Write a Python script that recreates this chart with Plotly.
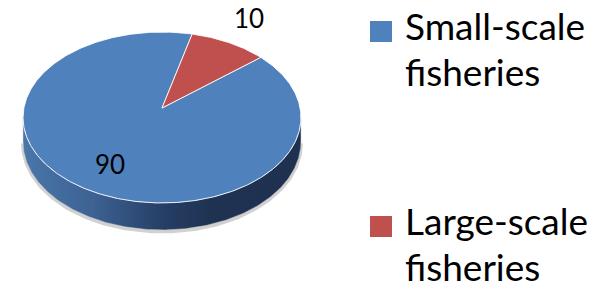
import numpy as np
import plotly.graph_objects as go

# ---- data ----
categories = ["Small-scale fisheries", "Large-scale fisheries"]
values = [90, 10]
slice_colors = ["#4f81bd", "#c0504d"]
label_font = "Lato"

# ---- page / projection parameters (pixel space) ----
W, H = 603, 297
cx, cy = 162.0, 108.0          # projected pie centre
A, B = 138.1, 84.4             # horizontal / vertical radii
k = 0.111                      # perspective factor
D = 24.0                       # thickness of the pie
first_angle = 50.0             # clockwise from 12 o'clock


def proj(theta_deg, r=1.0, depth=0.0):
    t = np.radians(theta_deg)
    u = r * np.sin(t)
    v = r * np.cos(t)
    w = 1 + k * v
    return cx + A * u / w, cy - B * v / w + D * depth / w


fig = go.Figure()

# side wall (front half, visible portion)
t_sil = np.degrees(np.arccos(-k))
side_t = np.linspace(t_sil, 360 - t_sil, 200)
tx, ty = proj(side_t)
bx, by = proj(side_t, depth=1)

# soft shadow below the side
fig.add_trace(go.Scatter(x=bx, y=by + 1.5, mode="lines",
                         line=dict(color="rgba(0,0,0,0.18)", width=4),
                         hoverinfo="skip", showlegend=False))

fig.add_trace(go.Scatter(
    x=np.concatenate([tx, bx[::-1], tx[:1]]),
    y=np.concatenate([ty, by[::-1], ty[:1]]),
    mode="lines", fill="toself",
    line=dict(color="rgba(200,200,200,0.6)", width=0.8),
    fillgradient=dict(type="horizontal",
                      colorscale=[[0.0, "#4a76aa"], [0.25, "#3d6293"],
                                  [0.5, "#263f66"], [0.68, "#1f3251"],
                                  [1.0, "#1f3150"]]),
    hoverinfo="skip", showlegend=False))

# top slices
total = float(sum(values))
start = first_angle
mids = []
for name, val, col in zip(categories, values, slice_colors):
    span = 360.0 * val / total
    ts = np.linspace(start, start + span, max(int(span * 2), 10))
    ax_, ay_ = proj(ts)
    px = np.concatenate([[cx], ax_, [cx]])
    py = np.concatenate([[cy], ay_, [cy]])
    fig.add_trace(go.Scatter(x=px, y=py, mode="lines", fill="toself",
                             fillcolor=col,
                             line=dict(color="rgba(255,255,255,0.85)", width=1),
                             name=name, hoverinfo="name", showlegend=False))
    mids.append(start + span / 2)
    start += span

# data labels (placed relative to the slice's mid-angle)
label_r = [0.715, 1.40]
label_dtheta = [-2.6, -1.4]
for val, m, r, dt in zip(values, mids, label_r, label_dtheta):
    lx, ly = proj(m + dt, r)
    fig.add_annotation(x=lx, y=ly, text=str(val), showarrow=False,
                       font=dict(family=label_font, size=26, color="black"),
                       xanchor="center", yanchor="middle")

# legend (manual, Excel-style)
legend_tops = [21, 216]
for name, col, top in zip(categories, slice_colors, legend_tops):
    fig.add_shape(type="rect", x0=370, x1=392, y0=top, y1=top + 21,
                  fillcolor=col, line=dict(width=0), layer="above")
    for i, line in enumerate(name.split(" ")):
        fig.add_annotation(x=403, y=top + 4 + 46 * i, text=line,
                           showarrow=False, xanchor="left", yanchor="middle",
                           font=dict(family=label_font, size=37, color="black"))

fig.update_layout(
    width=W, height=H,
    margin=dict(l=0, r=0, t=0, b=0),
    paper_bgcolor="white", plot_bgcolor="white",
    xaxis=dict(range=[0, W], visible=False, fixedrange=True),
    yaxis=dict(range=[H, 0], visible=False, fixedrange=True),
    showlegend=False,
)

fig.write_html("out.html",
               config={"displayModeBar": False, "staticPlot": True},
               post_script="document.body.style.margin='0';"
                           "document.body.style.overflow='hidden';")
